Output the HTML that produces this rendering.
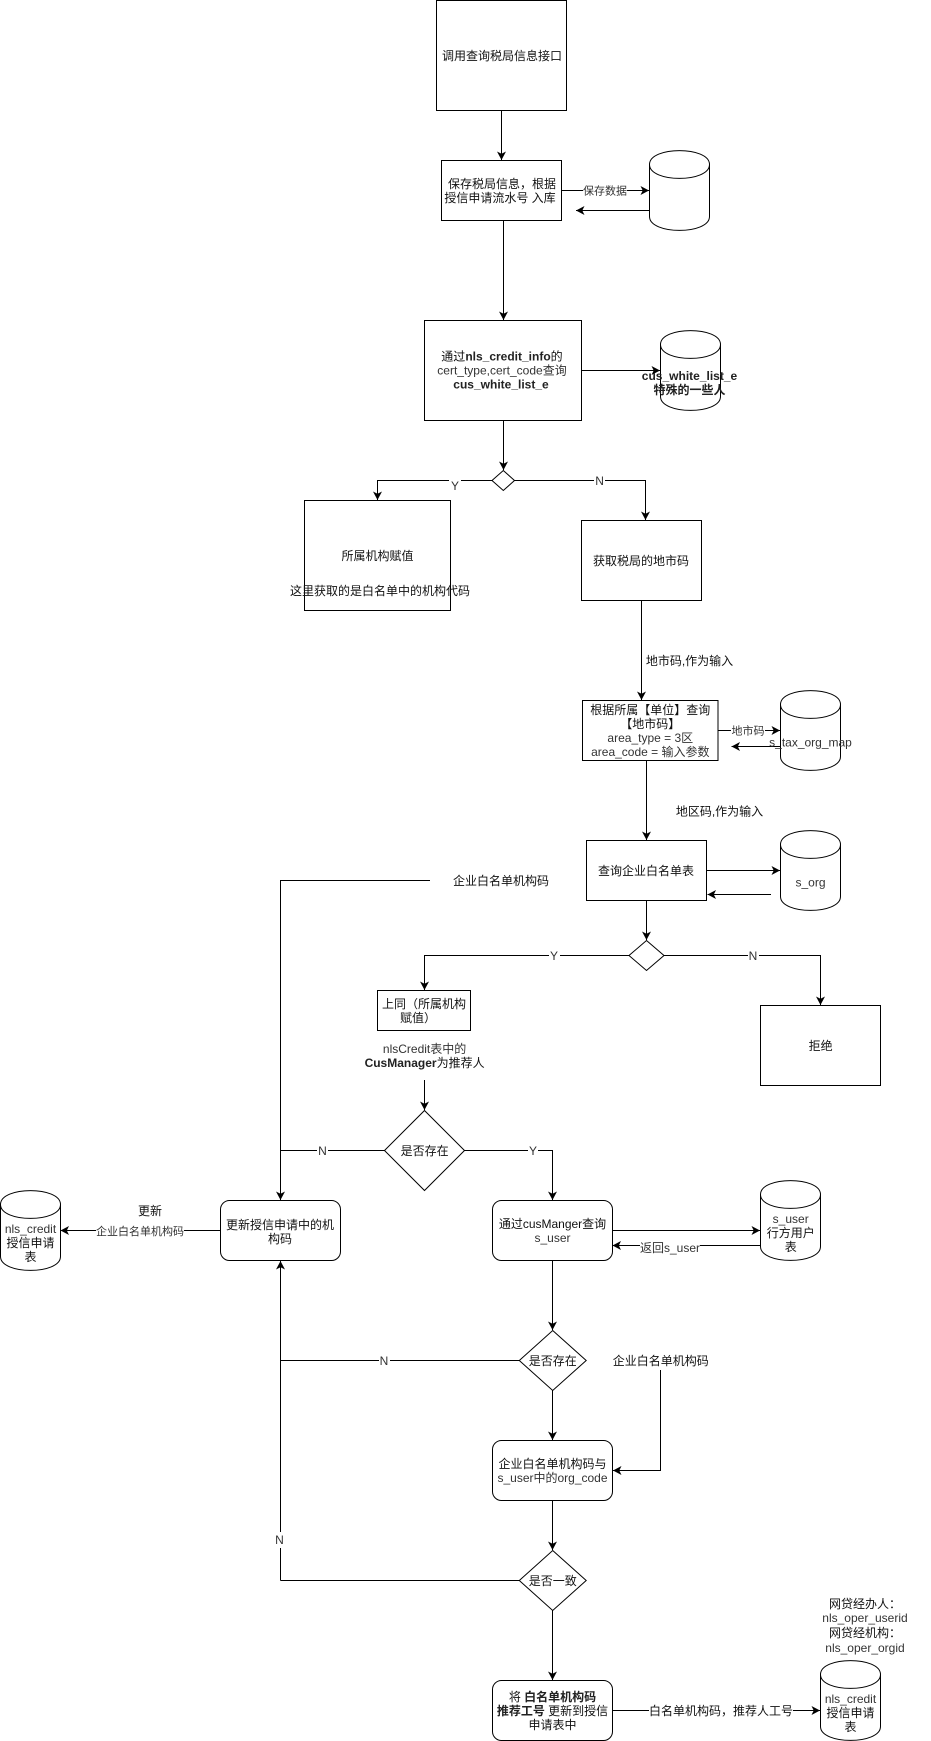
<!DOCTYPE html>
<html><head><meta charset="utf-8"><style>
html,body{margin:0;padding:0;background:#fff}
svg{display:block}
text{font-family:"Liberation Sans","Noto Sans CJK SC",sans-serif;font-size:12px;text-anchor:middle;fill:#111}
.s{font-size:11px;fill:#333}
.g{fill:#333}
.b{font-weight:bold;fill:#222}
.l{fill:none;stroke:#000;stroke-width:1}
.a{fill:none;stroke:#000;stroke-width:1;marker-end:url(#m)}
.n{fill:#fff;stroke:#000;stroke-width:1}
</style></head><body>
<svg width="931" height="1741" viewBox="0 0 931 1741" xmlns="http://www.w3.org/2000/svg">
<defs>
<marker id="m" markerUnits="userSpaceOnUse" markerWidth="11" markerHeight="11" refX="8.5" refY="5.5" orient="auto"><path d="M0,1 L8.5,5.5 L0,10 L2.2,5.5 Z" fill="#000"/></marker>
</defs>
<rect width="931" height="1741" fill="#fff"/>

<!-- boxes -->
<rect class="n" x="436.5" y="0.5" width="130" height="110" stroke="#444"/>
<rect class="n" x="441.5" y="160.5" width="120" height="60"/>
<rect class="n" x="424.5" y="320.5" width="157" height="100"/>
<rect class="n" x="304.5" y="500.5" width="146" height="110"/>
<rect class="n" x="581.5" y="520.5" width="120" height="80"/>
<rect class="n" x="582.5" y="700.5" width="135.5" height="60"/>
<rect class="n" x="586.5" y="840.5" width="120" height="60"/>
<rect class="n" x="377.5" y="990.5" width="93" height="40"/>
<rect class="n" x="760.5" y="1005.5" width="120" height="80"/>
<rect class="n" x="220.5" y="1200.5" width="120" height="60" rx="9"/>
<rect class="n" x="492.5" y="1200.5" width="120" height="60" rx="9"/>
<rect class="n" x="492.5" y="1440.5" width="120" height="60" rx="9"/>
<rect class="n" x="492.5" y="1680.5" width="120" height="60" rx="9"/>

<!-- diamonds -->
<path class="n" d="M503.3,470.5 L514.5,480.5 L503.3,490.5 L492,480.5 Z"/>
<path class="n" d="M646.5,940.5 L664,955.5 L646.5,970.5 L629,955.5 Z"/>
<path class="n" d="M424.5,1110.5 L464.5,1150.5 L424.5,1190.5 L384.5,1150.5 Z"/>
<path class="n" d="M552.7,1330.5 L586.2,1360.5 L552.7,1390.5 L519.3,1360.5 Z"/>
<path class="n" d="M552.7,1550.5 L586.2,1580.5 L552.7,1610.5 L519.3,1580.5 Z"/>

<!-- cylinders -->
<path class="n" d="M649.5,164.5 C649.5,146 709.5,146 709.5,164.5 L709.5,216.5 C709.5,235 649.5,235 649.5,216.5 Z"/><path class="l" d="M649.5,164.5 C649.5,183 709.5,183 709.5,164.5"/>
<path class="n" d="M660.5,344.5 C660.5,326 720.5,326 720.5,344.5 L720.5,396.5 C720.5,415 660.5,415 660.5,396.5 Z"/><path class="l" d="M660.5,344.5 C660.5,363 720.5,363 720.5,344.5"/>
<path class="n" d="M780.5,704.5 C780.5,686 840.5,686 840.5,704.5 L840.5,756.5 C840.5,775 780.5,775 780.5,756.5 Z"/><path class="l" d="M780.5,704.5 C780.5,723 840.5,723 840.5,704.5"/>
<path class="n" d="M780.5,844.5 C780.5,826 840.5,826 840.5,844.5 L840.5,896.5 C840.5,915 780.5,915 780.5,896.5 Z"/><path class="l" d="M780.5,844.5 C780.5,863 840.5,863 840.5,844.5"/>
<path class="n" d="M760.5,1194.5 C760.5,1176 820.5,1176 820.5,1194.5 L820.5,1246.5 C820.5,1265 760.5,1265 760.5,1246.5 Z"/><path class="l" d="M760.5,1194.5 C760.5,1213 820.5,1213 820.5,1194.5"/>
<path class="n" d="M0.5,1204.5 C0.5,1186 60.5,1186 60.5,1204.5 L60.5,1256.5 C60.5,1275 0.5,1275 0.5,1256.5 Z"/><path class="l" d="M0.5,1204.5 C0.5,1223 60.5,1223 60.5,1204.5"/>
<path class="n" d="M820.5,1674.5 C820.5,1656 880.5,1656 880.5,1674.5 L880.5,1726.5 C880.5,1745 820.5,1745 820.5,1726.5 Z"/><path class="l" d="M820.5,1674.5 C820.5,1693 880.5,1693 880.5,1674.5"/>

<!-- connectors -->
<path class="a" d="M501.5,110.5 V160"/>
<path class="a" d="M561.5,190.5 H649"/>
<path class="a" d="M649.5,210.5 H576"/>
<path class="a" d="M503.5,220.5 V320"/>
<path class="a" d="M581.5,370.5 H660"/>
<path class="a" d="M503.5,420.5 V470"/>
<path class="a" d="M492,480.5 H377.5 V500"/>
<path class="a" d="M514.5,480.5 H645.5 V520"/>
<path class="a" d="M641.5,600.5 V700"/>
<path class="a" d="M718,730.5 H780"/>
<path class="a" d="M780.5,746.5 H731.5"/>
<path class="a" d="M646.5,760.5 V840"/>
<path class="a" d="M706.5,870.5 H780"/>
<path class="a" d="M771,894.5 H707.5"/>
<path class="a" d="M430,880.5 H280.5 V1200"/>
<path class="a" d="M646.5,900.5 V940"/>
<path class="a" d="M629,955.5 H424.5 V990"/>
<path class="a" d="M664,955.5 H820.5 V1005"/>
<path class="a" d="M424.5,1080 V1110"/>
<path class="l" d="M384.5,1150.5 H280.5"/>
<path class="a" d="M464.5,1150.5 H552.5 V1200"/>
<path class="a" d="M220.5,1230.5 H60.5"/>
<path class="a" d="M612.5,1230.5 H760"/>
<path class="a" d="M760.5,1245.5 H612.5"/>
<path class="a" d="M552.5,1260.5 V1330"/>
<path class="l" d="M519.3,1360.5 H280.5"/>
<path class="a" d="M280.5,1580.5 V1261"/>
<path class="a" d="M552.5,1390.5 V1440"/>
<path class="a" d="M660.5,1370 V1470.5 H613"/>
<path class="a" d="M552.5,1500.5 V1550"/>
<path class="l" d="M519.3,1580.5 H280.5"/>
<path class="a" d="M552.5,1610.5 V1680"/>
<path class="a" d="M612.5,1710.5 H820"/>

<!-- label backgrounds -->
<rect x="583" y="183" width="44" height="15" fill="#fff"/>
<rect x="449" y="472" width="12" height="16" fill="#fff"/>
<rect x="594" y="473" width="11" height="15" fill="#fff"/>
<rect x="731" y="723" width="34" height="15" fill="#fff"/>
<rect x="549" y="948" width="11" height="15" fill="#fff"/>
<rect x="748" y="948" width="11" height="15" fill="#fff"/>
<rect x="317" y="1143" width="11" height="15" fill="#fff"/>
<rect x="528" y="1143" width="10" height="15" fill="#fff"/>
<rect x="96" y="1223" width="88" height="15" fill="#fff"/>
<rect x="640" y="1240" width="60" height="14" fill="#fff"/>
<rect x="379" y="1353" width="11" height="15" fill="#fff"/>
<rect x="274" y="1532" width="12" height="16" fill="#fff"/>
<rect x="649" y="1703" width="144" height="15" fill="#fff"/>

<!-- text -->
<text x="502" y="60">调用查询税局信息接口</text>
<text x="502" y="188">保存税局信息，根据</text>
<text x="500" y="202">授信申请流水号 入库</text>
<text class="s" x="605" y="194.5">保存数据</text>
<text x="502" y="360.5">通过<tspan class="b">nls_credit_info</tspan>的</text>
<text x="502" y="374.5" class="g">cert_type,cert_code查询</text>
<text x="501" y="388.5" class="b">cus_white_list_e</text>
<text x="689.5" y="380" class="b">cus_white_list_e</text>
<text x="689.5" y="394" class="b">特殊的一些人</text>
<text class="g" x="455" y="490">Y</text>
<text class="g" x="599.6" y="485">N</text>
<text x="377.5" y="560">所属机构赋值</text>
<text x="380" y="595">这里获取的是白名单中的机构代码</text>
<text x="641" y="565">获取税局的地市码</text>
<text x="689.5" y="665">地市码,作为输入</text>
<text x="650.3" y="714">根据所属【单位】查询</text>
<text x="650.3" y="728">【地市码】</text>
<text class="g" x="650.3" y="742">area_type = 3区</text>
<text class="g" x="650.3" y="756">area_code = 输入参数</text>
<text class="s" x="748" y="734.5">地市码</text>
<text class="g" x="810.5" y="746.5">s_tax_org_map</text>
<text x="719.5" y="815.5">地区码,作为输入</text>
<text x="646" y="875">查询企业白名单表</text>
<text class="g" x="810.5" y="886.5">s_org</text>
<text x="501" y="885">企业白名单机构码</text>
<text class="g" x="554" y="960">Y</text>
<text class="g" x="753" y="960">N</text>
<text x="424" y="1008">上同（所属机构</text>
<text x="418" y="1022">赋值）</text>
<text x="820.6" y="1050">拒绝</text>
<text class="g" x="424.6" y="1053">nlsCredit表中的</text>
<text x="424.6" y="1067"><tspan class="b">CusManager</tspan>为推荐人</text>
<text x="424.6" y="1155">是否存在</text>
<text class="g" x="322.4" y="1155">N</text>
<text class="g" x="533" y="1155">Y</text>
<text x="150" y="1215">更新</text>
<text class="s" x="140" y="1235">企业白名单机构码</text>
<text x="280" y="1229">更新授信申请中的机</text>
<text x="280" y="1243">构码</text>
<text x="552.5" y="1228">通过cusManger查询</text>
<text class="g" x="552.5" y="1242">s_user</text>
<text class="g" x="670" y="1252">返回s_user</text>
<text class="g" x="790.7" y="1223">s_user</text>
<text x="790.7" y="1237">行方用户</text>
<text x="790.7" y="1251">表</text>
<text class="g" x="30.5" y="1233">nls_credit</text>
<text x="30.5" y="1247">授信申请</text>
<text x="30.5" y="1261">表</text>
<text x="552.7" y="1365">是否存在</text>
<text class="g" x="384" y="1365">N</text>
<text x="660.7" y="1365">企业白名单机构码</text>
<text x="552.5" y="1468">企业白名单机构码与</text>
<text class="g" x="552.5" y="1482">s_user中的org_code</text>
<text x="552.7" y="1585">是否一致</text>
<text class="g" x="279.5" y="1544">N</text>
<text x="552.5" y="1701">将 <tspan class="b">白名单机构码</tspan></text>
<text x="552.5" y="1715"><tspan class="b">推荐工号</tspan> 更新到授信</text>
<text x="552.5" y="1729">申请表中</text>
<text x="721" y="1715">白名单机构码，推荐人工号</text>
<text x="865" y="1608">网贷经办人：</text>
<text class="g" x="865" y="1622">nls_oper_userid</text>
<text x="865" y="1637">网贷经机构：</text>
<text class="g" x="865" y="1652">nls_oper_orgid</text>
<text class="g" x="850.5" y="1703">nls_credit</text>
<text x="850.5" y="1717">授信申请</text>
<text x="850.5" y="1731">表</text>
</svg>
</body></html>
